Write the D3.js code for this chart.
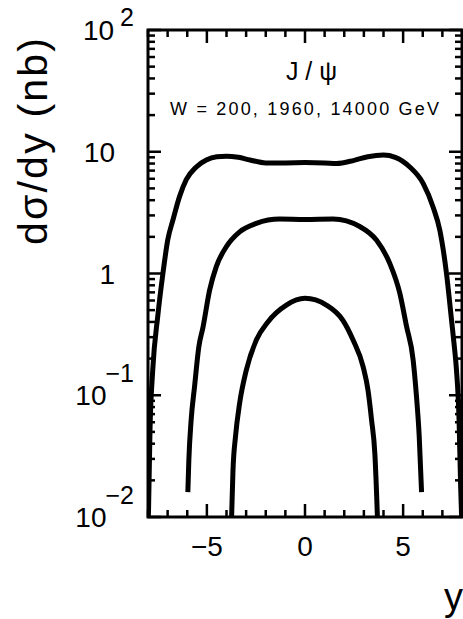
<!DOCTYPE html>
<html>
<head>
<meta charset="utf-8">
<script src="https://cdn.jsdelivr.net/npm/d3@7"></script>
<style>
  html, body { margin: 0; padding: 0; background: #fff; }
  svg { display: block; }
  text { font-family: "Liberation Sans", Arial, Helvetica, sans-serif; fill: #000; }
</style>
</head>
<body>
<script>
// ---------------- data ----------------
const title = "J/ψ";
const subtitle = "W = 200, 1960, 14000 GeV";
const xLabel = "y";
const yLabel = "dσ/dy (nb)";

const xMajorTicks = [-5, 0, 5];
const xMinorTicks = [-8, -7, -6, -4, -3, -2, -1, 1, 2, 3, 4, 6, 7, 8];
const xTickLabels = ["−5", "0", "5"];

const yMajorTicks = [0.01, 0.1, 1, 10, 100];
const yTickBase = ["10", "10", "1", "10", "10"];
const yTickExp = ["−2", "−1", "", "", "2"];

// W = 14000 GeV
const rap14000 = [-8.0, -7.97, -7.9, -7.76, -7.5, -7.24, -6.99, -6.73, -6.39, -6.05, -5.54, -5.03, -4.5, -4.0, -3.4, -2.8, -2.0, -1.0, 0.0, 1.0, 1.6, 2.5, 3.2, 4.0, 4.6, 5.34, 6.02, 6.53, 6.87, 7.21, 7.47, 7.6, 7.72, 7.85, 7.93, 8.0];
const val14000 = [0.008, 0.012, 0.05, 0.16, 0.45, 1.0, 1.9, 2.75, 4.3, 5.9, 7.5, 8.55, 9.1, 9.2, 9.0, 8.55, 8.1, 8.1, 8.15, 8.1, 8.0, 8.5, 9.1, 9.4, 9.0, 7.5, 5.5, 3.5, 2.27, 1.0, 0.41, 0.26, 0.16, 0.063, 0.018, 0.008];

// W = 1960 GeV
const rap1960 = [-5.97, -5.92, -5.8, -5.63, -5.41, -5.2, -4.86, -4.52, -4.01, -3.33, -2.48, -1.29, 0.0, 1.43, 2.79, 3.64, 4.32, 4.83, 5.17, 5.51, 5.68, 5.82, 5.94];
const val1960 = [0.016, 0.029, 0.063, 0.117, 0.25, 0.36, 0.73, 1.14, 1.66, 2.2, 2.58, 2.8, 2.78, 2.8, 2.43, 1.88, 1.21, 0.69, 0.37, 0.195, 0.098, 0.046, 0.016];

// W = 200 GeV
const rap200 = [-3.76, -3.74, -3.67, -3.54, -3.33, -2.99, -2.48, -1.89, -0.95, 0.0, 1.09, 1.94, 2.45, 2.96, 3.21, 3.39, 3.56, 3.69, 3.71];
const val200 = [0.008, 0.01, 0.024, 0.046, 0.086, 0.161, 0.284, 0.40, 0.55, 0.625, 0.55, 0.41, 0.284, 0.172, 0.11, 0.063, 0.033, 0.01, 0.008];

const series = [
  { x: rap14000, v: val14000 },
  { x: rap1960, v: val1960 },
  { x: rap200, v: val200 }
];

// ---------------- layout ----------------
const W = 463, H = 619;
const L = 148, T = 30, R = 462, B = 517;

const svg = d3.select("body").append("svg").attr("width", W).attr("height", H);

const xs = d3.scaleLinear().domain([-8, 8]).range([L, R]);
const ys = d3.scaleLog().domain([0.01, 100]).range([B, T]);

// minor y ticks
const yMinor = [];
[0.01, 0.1, 1, 10].forEach(d => { for (let k = 2; k <= 9; k++) yMinor.push(d * k); });

// curves
svg.append("clipPath").attr("id", "plotclip")
  .append("rect").attr("x", L).attr("y", T).attr("width", R - L).attr("height", B - T);

const line = d3.line()
  .x(d => xs(d[0]))
  .y(d => ys(d[1]))
  .curve(d3.curveMonotoneX);

svg.append("g").attr("clip-path", "url(#plotclip)")
  .selectAll("path").data(series).join("path")
  .attr("d", s => line(s.x.map((xv, i) => [xv, s.v[i]])))
  .attr("fill", "none")
  .attr("stroke", "#000")
  .attr("stroke-width", 5)
  .attr("stroke-linejoin", "round")
  .attr("stroke-linecap", "butt");

// ticks (inside the frame, all four sides)
const xTicks = xMajorTicks.map(d => ({ v: d, len: 13 })).concat(xMinorTicks.map(d => ({ v: d, len: 7 })));
const yTicks = yMajorTicks.map(d => ({ v: d, len: 13 })).concat(yMinor.map(d => ({ v: d, len: 7 })));

xTicks.forEach(d => {
  svg.append("line").attr("x1", xs(d.v)).attr("x2", xs(d.v)).attr("y1", B).attr("y2", B - d.len)
    .style("stroke", "black").style("stroke-width", "2.5px");
  svg.append("line").attr("x1", xs(d.v)).attr("x2", xs(d.v)).attr("y1", T).attr("y2", T + d.len)
    .style("stroke", "black").style("stroke-width", "2.5px");
});
yTicks.forEach(d => {
  svg.append("line").attr("x1", L).attr("x2", L + d.len).attr("y1", ys(d.v)).attr("y2", ys(d.v))
    .style("stroke", "black").style("stroke-width", "2.5px");
  svg.append("line").attr("x1", R).attr("x2", R - d.len).attr("y1", ys(d.v)).attr("y2", ys(d.v))
    .style("stroke", "black").style("stroke-width", "2.5px");
});

// frame
svg.append("rect").attr("x", L).attr("y", T).attr("width", R - L).attr("height", B - T)
  .attr("fill", "none").attr("stroke", "#000").attr("stroke-width", 3);

// x tick labels
svg.append("g").selectAll("text").data(xMajorTicks).join("text")
  .attr("x", d => xs(d)).attr("y", 556)
  .attr("text-anchor", "middle").attr("font-size", 28)
  .text((d, i) => xTickLabels[i]);

// y tick labels
const yl = svg.append("g");
yMajorTicks.forEach((d, i) => {
  const base = yTickBase[i], exp = yTickExp[i];
  const cy = ys(d) + 10;
  if (!exp) {
    yl.append("text").attr("x", 115).attr("y", cy)
      .attr("text-anchor", "end").attr("font-size", 28).text(base);
  } else {
    const neg = exp.startsWith("−");
    const t = yl.append("text").attr("x", 134).attr("y", cy)
      .attr("text-anchor", "end").attr("font-size", 28);
    t.append("tspan").text(base);
    t.append("tspan").attr("font-size", 25)
      .attr("dy", neg ? -23 : -14).attr("dx", neg ? -1 : 6)
      .text(exp);
  }
});

// axis titles
svg.append("text")
  .attr("transform", `translate(47,245) rotate(-90)`)
  .attr("font-size", 41)
  .attr("textLength", 207).attr("lengthAdjust", "spacing")
  .text(yLabel);

svg.append("text").attr("x", 463).attr("y", 610)
  .attr("text-anchor", "end").attr("font-size", 38).text(xLabel);

// in-plot labels
svg.append("text").attr("x", 286).attr("y", 80)
  .attr("font-size", 25).attr("textLength", 51).attr("lengthAdjust", "spacing")
  .text(title);
svg.append("text").attr("x", 170).attr("y", 115)
  .attr("font-size", 18).attr("textLength", 269).attr("lengthAdjust", "spacing")
  .text(subtitle);
</script>
</body>
</html>
